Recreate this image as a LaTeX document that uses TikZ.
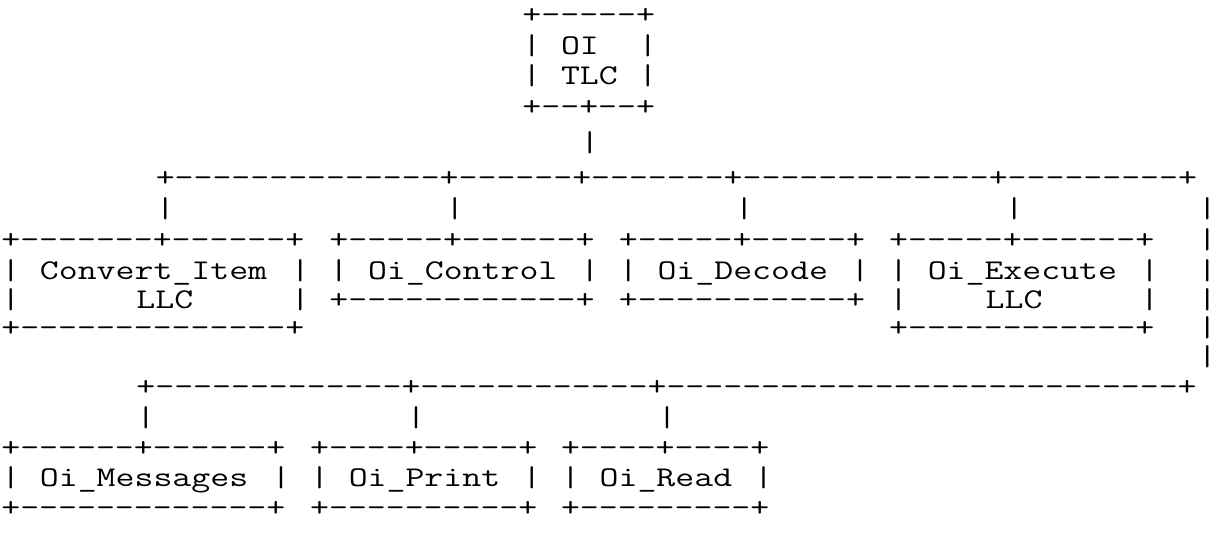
\documentclass[tikz,border=0pt]{standalone}
\usepackage{graphicx}

% a run of n separate hyphens (kept apart so no dash ligature forms)
\newcommand\dashes[1]{\foreach\dashidx in {1,...,#1}{\hbox{-}}}

\tikzset{
  glyphrun/.style={inner sep=0pt, outer sep=0pt, anchor=base west,
    font=\ttfamily\fontsize{14.3}{14.3}\selectfont, text=black},
}

% \seg{name}{column}{line}{characters}: fixed-pitch character grid,
% 19.3 units per column; each line has its own vertical position
\newcommand\seg[4]{%
  \pgfmathsetmacro\segy{{15,46,76,107,143,178,209,240,271,300,328,357,387,418,448,478,508}[#3]+8.7}%
  \node[glyphrun] (#1) at ({11+19.3*(#2)-9.65},\segy)
    {\scalebox{1.28538}[1]{#4}};}

\begin{document}
\begin{tikzpicture}[x=0.5pt,y=-0.5pt]
\fill[white] (0,0) rectangle (1220,534);
\useasboundingbox (0,0) rectangle (1220,534);

% top level component
\seg{tlcTop}{27}{0}{+\dashes{5}+}
\seg{tlcLa}{27}{1}{|}
\seg{tlcName}{29}{1}{OI}
\seg{tlcRa}{33}{1}{|}
\seg{tlcLb}{27}{2}{|}
\seg{tlcKind}{29}{2}{TLC}
\seg{tlcRb}{33}{2}{|}
\seg{tlcBot}{27}{3}{+\dashes{2}+\dashes{2}+}
\seg{tlcDrop}{30}{4}{|}

% first bus
\seg{busA}{8}{5}{+\dashes{14}+\dashes{6}+\dashes{7}+\dashes{13}+\dashes{9}+}
\seg{dropConv}{8}{6}{|}
\seg{dropCtrl}{23}{6}{|}
\seg{dropDec}{38}{6}{|}
\seg{dropExe}{52}{6}{|}
\foreach \r in {6,...,11}{\seg{riser\r}{62}{\r}{|}}

% Convert_Item LLC
\seg{convTop}{0}{7}{+\dashes{7}+\dashes{6}+}
\seg{convLa}{0}{8}{|}
\seg{convName}{2}{8}{Convert\_Item}
\seg{convRa}{15}{8}{|}
\seg{convLb}{0}{9}{|}
\seg{convKind}{7}{9}{LLC}
\seg{convRb}{15}{9}{|}
\seg{convBot}{0}{10}{+\dashes{14}+}

% Oi_Control
\seg{ctrlTop}{17}{7}{+\dashes{5}+\dashes{6}+}
\seg{ctrlL}{17}{8}{|}
\seg{ctrlName}{19}{8}{Oi\_Control}
\seg{ctrlR}{30}{8}{|}
\seg{ctrlBot}{17}{9}{+\dashes{12}+}

% Oi_Decode
\seg{decTop}{32}{7}{+\dashes{5}+\dashes{5}+}
\seg{decL}{32}{8}{|}
\seg{decName}{34}{8}{Oi\_Decode}
\seg{decR}{44}{8}{|}
\seg{decBot}{32}{9}{+\dashes{11}+}

% Oi_Execute LLC
\seg{exeTop}{46}{7}{+\dashes{5}+\dashes{6}+}
\seg{exeLa}{46}{8}{|}
\seg{exeName}{48}{8}{Oi\_Execute}
\seg{exeRa}{59}{8}{|}
\seg{exeLb}{46}{9}{|}
\seg{exeKind}{51}{9}{LLC}
\seg{exeRb}{59}{9}{|}
\seg{exeBot}{46}{10}{+\dashes{12}+}

% second bus
\seg{busB}{7}{12}{+\dashes{13}+\dashes{12}+\dashes{27}+}
\seg{dropMsg}{7}{13}{|}
\seg{dropPrt}{21}{13}{|}
\seg{dropRd}{34}{13}{|}

% Oi_Messages
\seg{msgTop}{0}{14}{+\dashes{6}+\dashes{6}+}
\seg{msgL}{0}{15}{|}
\seg{msgName}{2}{15}{Oi\_Messages}
\seg{msgR}{14}{15}{|}
\seg{msgBot}{0}{16}{+\dashes{13}+}

% Oi_Print
\seg{prtTop}{16}{14}{+\dashes{4}+\dashes{5}+}
\seg{prtL}{16}{15}{|}
\seg{prtName}{18}{15}{Oi\_Print}
\seg{prtR}{27}{15}{|}
\seg{prtBot}{16}{16}{+\dashes{10}+}

% Oi_Read
\seg{rdTop}{29}{14}{+\dashes{4}+\dashes{4}+}
\seg{rdL}{29}{15}{|}
\seg{rdName}{31}{15}{Oi\_Read}
\seg{rdR}{39}{15}{|}
\seg{rdBot}{29}{16}{+\dashes{9}+}
\end{tikzpicture}
\end{document}
